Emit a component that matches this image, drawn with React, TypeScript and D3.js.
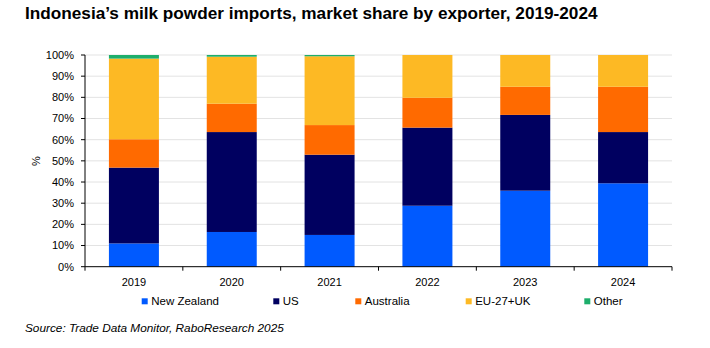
import React from "react";
import * as d3 from "d3";

const years = ["2019", "2020", "2021", "2022", "2023", "2024"];
const seriesNames = ["New Zealand", "US", "Australia", "EU-27+UK", "Other"];
const newZealand = [11.0, 16.4, 15.0, 28.8, 35.9, 39.4];
const us = [35.8, 47.2, 37.9, 36.9, 35.8, 24.2];
const australia = [13.4, 13.4, 14.0, 14.1, 13.3, 21.4];
const euUk = [38.1, 22.2, 32.5, 20.2, 15.0, 15.0];
const other = [1.7, 0.8, 0.6, 0.0, 0.0, 0.0];
const yTicks = [0, 10, 20, 30, 40, 50, 60, 70, 80, 90, 100];
const colors = ["#005AFF", "#000060", "#FF6A00", "#FDB924", "#1DAE6B"];

const FONT = "'Liberation Sans Narrow', 'Arial Narrow', 'Liberation Sans', Arial, sans-serif";

export default function App() {
  const W = 710, H = 348;
  const left = 85, right = 672, top = 55, bottom = 266.7;
  const x = d3.scaleBand<string>().domain(years).range([left, right]).paddingInner(0.489).paddingOuter(0.2445);
  const y = d3.scaleLinear().domain([0, 100]).range([bottom, top]);
  const step = x.step();

  const table = years.map((yr, i) => ({
    year: yr,
    "New Zealand": newZealand[i],
    US: us[i],
    Australia: australia[i],
    "EU-27+UK": euUk[i],
    Other: other[i],
  }));
  const stacked = d3.stack<any>().keys(seriesNames)(table);

  const legendX = [141.7, 273.3, 355.3, 465.7, 584.3];

  return (
    <svg width={W} height={H} style={{ position: "absolute", left: 0, top: 0, background: "#fff" }}>
      <rect x={0} y={0} width={W} height={H} fill="#fff" />
      <text x={25} y={19} fontFamily={FONT} fontWeight="bold" fontSize={17.2} fill="#000">
        Indonesia’s milk powder imports, market share by exporter, 2019-2024
      </text>
      {yTicks.map((t) => (
        <g key={t}>
          {t > 0 && <line x1={left} x2={right} y1={y(t)} y2={y(t)} stroke="#e3e3e3" strokeWidth={1} />}
          <line x1={left - 4} x2={left} y1={y(t)} y2={y(t)} stroke="#000" strokeWidth={1} />
          <text x={74} y={y(t)} dy="0.35em" textAnchor="end" fontFamily={FONT} fontSize={11} fill="#000">
            {t}%
          </text>
        </g>
      ))}
      <text transform={`translate(40,161) rotate(-90)`} textAnchor="middle" fontFamily={FONT} fontSize={11} fill="#000">
        %
      </text>
      {stacked.map((s, si) => (
        <g key={s.key} fill={colors[si]}>
          {s.map((d, i) => {
            const h = y(d[0]) - y(d[1]);
            if (h <= 0) return null;
            return <rect key={i} x={x(years[i])} y={y(d[1])} width={x.bandwidth()} height={h} />;
          })}
        </g>
      ))}
      <line x1={left} x2={left} y1={top} y2={bottom} stroke="#000" strokeWidth={1} />
      <line x1={left} x2={right} y1={bottom} y2={bottom} stroke="#000" strokeWidth={1} />
      {d3.range(years.length + 1).map((k) => (
        <line key={k} x1={left + k * step} x2={left + k * step} y1={bottom} y2={bottom + 4} stroke="#000" strokeWidth={1} />
      ))}
      {years.map((yr) => (
        <text key={yr} x={(x(yr) as number) + x.bandwidth() / 2} y={282.5} dy="0.35em" textAnchor="middle" fontFamily={FONT} fontSize={11} fill="#000">
          {yr}
        </text>
      ))}
      {seriesNames.map((n, i) => (
        <g key={n}>
          <rect x={legendX[i]} y={298.3} width={6} height={6} fill={colors[i]} />
          <text x={legendX[i] + 9.5} y={301} dy="0.35em" fontFamily={FONT} fontSize={11.5} fill="#000">
            {n}
          </text>
        </g>
      ))}
      <text x={25} y={327.7} dy="0.35em" fontFamily={FONT} fontStyle="italic" fontSize={11.8} fill="#000">
        Source: Trade Data Monitor, RaboResearch 2025
      </text>
    </svg>
  );
}
